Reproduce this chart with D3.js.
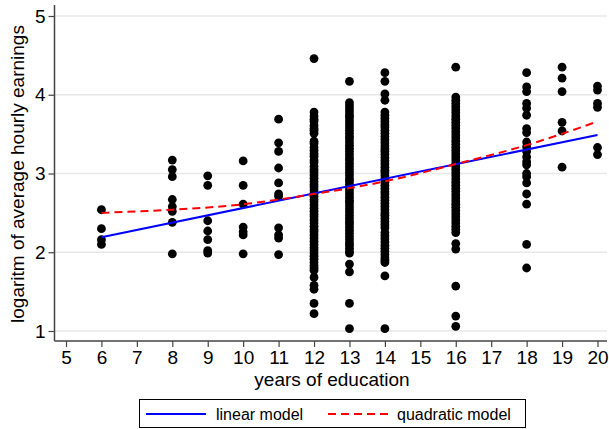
<!DOCTYPE html>
<html>
<head>
<meta charset="utf-8">
<script src="https://cdn.jsdelivr.net/npm/d3@7"></script>
<style>
  body { margin: 0; background: #fff; }
  svg { display: block; font-family: "Liberation Sans", Arial, sans-serif; }
</style>
</head>
<body>
<svg id="chart" width="609" height="429"></svg>
<script>
// Observed values: years of education and the log of average hourly earnings
const years = [6, 8, 9, 10, 11, 12, 13, 14, 16, 18, 19, 20];
const lwageByYear = [
  [2.54, 2.30, 2.16, 2.10],
  [3.17, 3.05, 2.96, 2.67, 2.58, 2.52, 2.38, 1.98],
  [2.97, 2.85, 2.40, 2.27, 2.16, 2.02, 1.99],
  [3.16, 2.85, 2.61, 2.32, 2.26, 2.22, 1.98],
  [3.69, 3.39, 3.28, 3.07, 2.88, 2.74, 2.71, 2.31, 2.22, 2.18, 1.97],
  [4.46, 3.78, 3.73, 3.69, 3.66, 3.61, 3.57, 3.55, 3.51, 3.41, 3.38, 3.33, 3.29,
   3.25, 3.22, 3.17, 3.14, 3.09, 3.05, 3.02, 2.98, 2.94, 2.90, 2.86, 2.83, 2.79,
   2.75, 2.71, 2.67, 2.64, 2.60, 2.56, 2.52, 2.48, 2.45, 2.41, 2.37, 2.33, 2.29,
   2.26, 2.22, 2.18, 2.14, 2.10, 2.06, 2.03, 1.99, 1.95, 1.91, 1.87, 1.83, 1.80,
   1.77, 1.68, 1.58, 1.53, 1.35, 1.22],
  [4.17, 3.90, 3.86, 3.82, 3.78, 3.74, 3.71, 3.67, 3.63, 3.59, 3.55, 3.51, 3.47,
   3.44, 3.40, 3.36, 3.32, 3.28, 3.24, 3.20, 3.17, 3.13, 3.09, 3.05, 3.01, 2.97,
   2.93, 2.90, 2.86, 2.82, 2.78, 2.74, 2.70, 2.66, 2.63, 2.59, 2.55, 2.51, 2.47,
   2.43, 2.39, 2.36, 2.32, 2.28, 2.24, 2.20, 2.16, 2.12, 2.09, 2.05, 2.01, 1.99,
   1.85, 1.75, 1.35, 1.03],
  [4.28, 4.17, 4.01, 3.93, 3.78, 3.74, 3.70, 3.66, 3.62, 3.59, 3.55, 3.51, 3.47,
   3.43, 3.39, 3.35, 3.31, 3.28, 3.24, 3.20, 3.16, 3.12, 3.08, 3.04, 3.01, 2.97,
   2.93, 2.89, 2.85, 2.81, 2.77, 2.74, 2.70, 2.66, 2.62, 2.58, 2.54, 2.50, 2.47,
   2.43, 2.39, 2.35, 2.31, 2.25, 2.21, 2.17, 2.13, 2.09, 2.05, 2.01, 1.97, 1.93,
   1.90, 1.87, 1.70, 1.03],
  [4.35, 3.97, 3.93, 3.89, 3.85, 3.81, 3.77, 3.73, 3.69, 3.65, 3.61, 3.57, 3.53,
   3.49, 3.45, 3.41, 3.37, 3.33, 3.29, 3.25, 3.21, 3.17, 3.13, 3.09, 3.05, 3.01,
   2.97, 2.93, 2.89, 2.85, 2.81, 2.77, 2.73, 2.69, 2.65, 2.61, 2.57, 2.53, 2.49,
   2.45, 2.41, 2.37, 2.33, 2.29, 2.25, 2.11, 2.04, 1.57, 1.19, 1.06],
  [4.28, 4.10, 4.04, 3.89, 3.83, 3.74, 3.57, 3.52, 3.40, 3.34, 3.28, 3.21, 3.15,
   3.11, 3.00, 2.96, 2.88, 2.74, 2.61, 2.10, 1.80],
  [4.35, 4.21, 4.04, 3.65, 3.54, 3.08],
  [4.11, 4.06, 3.89, 3.84, 3.33, 3.24]
];

// Fitted models
const linearYears = [6, 20];
const linearFit = [2.19, 3.49];
const quadYears = [6, 8, 10, 12, 14, 16, 18, 20];
const quadFit = [2.50, 2.54, 2.61, 2.74, 2.90, 3.12, 3.36, 3.66];

const xTicks = d3.range(5, 21);
const yTicks = [1, 2, 3, 4, 5];

const svg = d3.select("#chart");
const AXIS = "#444";
const GRID = "#e8e8e8";

const plotLeft = 54.5, plotBottom = 341, plotTop = 5, plotRight = 607;
const x = d3.scaleLinear().domain([5, 20]).range([66, 597.5]);
const y = d3.scaleLinear().domain([1, 5]).range([331, 16]);

// gridlines
svg.append("g")
  .selectAll("line")
  .data(yTicks)
  .join("line")
  .attr("x1", plotLeft).attr("x2", plotRight)
  .attr("y1", d => y(d)).attr("y2", d => y(d))
  .attr("stroke", GRID)
  .attr("stroke-width", 1.5);

// scatter
const points = years.flatMap((yr, i) => lwageByYear[i].map(v => ({ yr, v })));
svg.append("g")
  .selectAll("circle")
  .data(points)
  .join("circle")
  .attr("cx", d => x(d.yr))
  .attr("cy", d => y(d.v))
  .attr("r", 4.4)
  .attr("fill", "#000");

// fitted lines
const lin = d3.line().x(d => x(d[0])).y(d => y(d[1]));
svg.append("path")
  .datum(linearYears.map((yr, i) => [yr, linearFit[i]]))
  .attr("d", lin)
  .attr("fill", "none")
  .attr("stroke", "#0000ff")
  .attr("stroke-width", 2);

const quad = d3.line().x(d => x(d[0])).y(d => y(d[1])).curve(d3.curveNatural);
svg.append("path")
  .datum(quadYears.map((yr, i) => [yr, quadFit[i]]))
  .attr("d", quad)
  .attr("fill", "none")
  .attr("stroke", "#ff0000")
  .attr("stroke-width", 2)
  .attr("stroke-dasharray", "8,5");

// axes
const xAxis = svg.append("g")
  .attr("transform", `translate(0,${plotBottom})`)
  .call(d3.axisBottom(x).tickValues(xTicks).tickFormat(d3.format("d"))
    .tickSize(6).tickPadding(4).tickSizeOuter(0));
xAxis.select(".domain").remove();
xAxis.append("line")
  .attr("x1", plotLeft).attr("x2", plotRight)
  .attr("stroke", AXIS).attr("stroke-width", 1.5);

const yAxis = svg.append("g")
  .attr("transform", `translate(${plotLeft},0)`)
  .call(d3.axisLeft(y).tickValues(yTicks).tickFormat(d3.format("d"))
    .tickSize(6).tickPadding(3).tickSizeOuter(0));
yAxis.select(".domain").remove();
yAxis.append("line")
  .attr("y1", plotTop).attr("y2", plotBottom)
  .attr("stroke", AXIS).attr("stroke-width", 1.5);

svg.selectAll(".tick line").attr("stroke", AXIS).attr("stroke-width", 1.2);
svg.selectAll(".tick text")
  .attr("fill", "#000")
  .attr("font-size", 19)
  .attr("font-family", "Liberation Sans, Arial, sans-serif");

// axis titles
svg.append("text")
  .attr("x", 332).attr("y", 386)
  .attr("text-anchor", "middle")
  .attr("font-size", 19)
  .text("years of education");

svg.append("text")
  .attr("transform", "translate(24,174) rotate(-90)")
  .attr("text-anchor", "middle")
  .attr("font-size", 19)
  .text("logaritm of average hourly earnings");

// legend
const lg = svg.append("g");
lg.append("rect")
  .attr("x", 139.5).attr("y", 399.5)
  .attr("width", 386).attr("height", 28)
  .attr("fill", "#fff")
  .attr("stroke", "#000")
  .attr("stroke-width", 1);
lg.append("line")
  .attr("x1", 146).attr("x2", 206).attr("y1", 414).attr("y2", 414)
  .attr("stroke", "#0000ff").attr("stroke-width", 2);
lg.append("text")
  .attr("x", 216).attr("y", 419.5)
  .attr("font-size", 16)
  .text("linear model");
lg.append("line")
  .attr("x1", 328).attr("x2", 388).attr("y1", 414).attr("y2", 414)
  .attr("stroke", "#ff0000").attr("stroke-width", 2)
  .attr("stroke-dasharray", "8,5");
lg.append("text")
  .attr("x", 397).attr("y", 419.5)
  .attr("font-size", 16)
  .text("quadratic model");
</script>
</body>
</html>
